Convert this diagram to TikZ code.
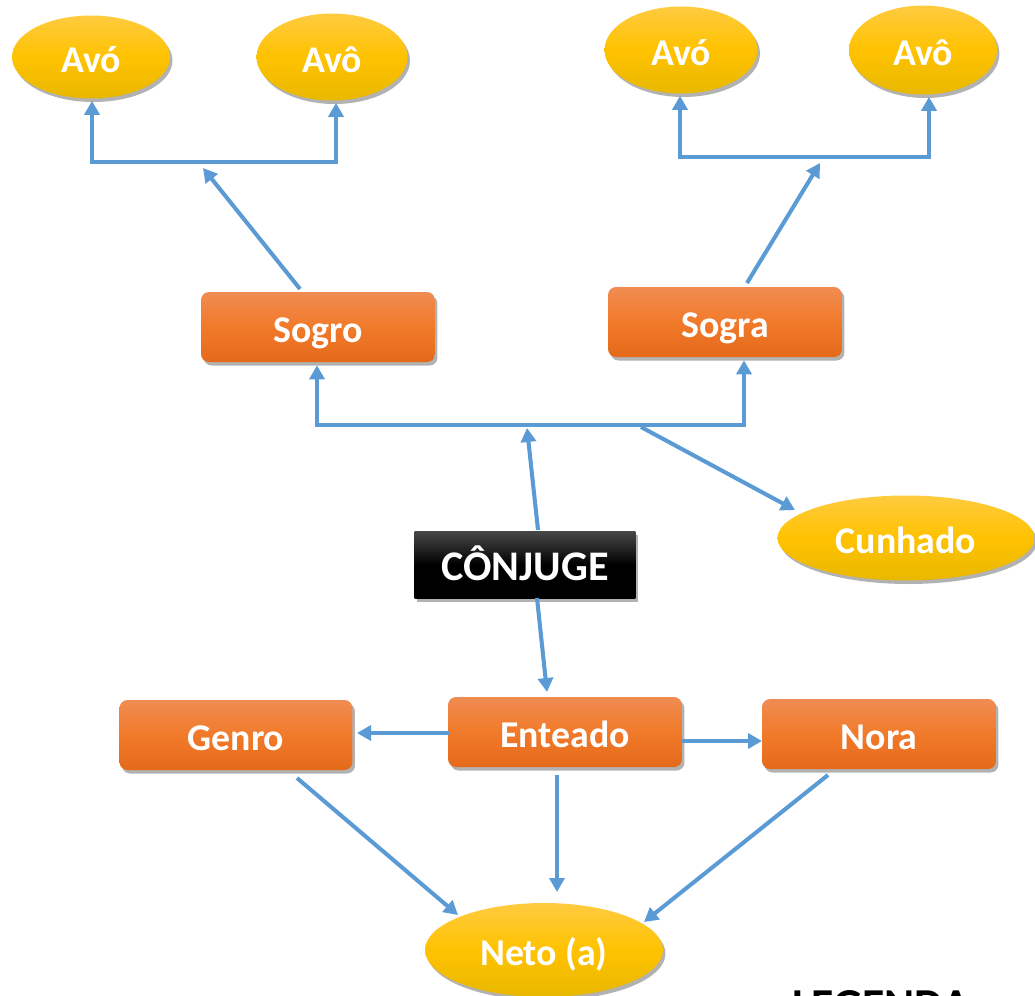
\documentclass[tikz,border=0pt]{standalone}
\usepackage{fontspec}
\setmainfont{Carlito}
\usetikzlibrary{shapes.geometric,arrows.meta,calc,shadows}
\definecolor{goldT}{RGB}{255,203,64}
\definecolor{goldM}{RGB}{255,194,0}
\definecolor{goldB}{RGB}{232,184,0}
\definecolor{orT}{RGB}{240,140,82}
\definecolor{orM}{RGB}{241,122,42}
\definecolor{orB}{RGB}{228,106,26}
\definecolor{lineblue}{RGB}{91,155,213}
\newcommand\lblfont{\fontsize{21.5}{25}\selectfont\bfseries}
\newcommand\bigfont{\fontsize{24}{28}\selectfont\bfseries}
\tikzset{
  shad/.style={drop shadow={shadow xshift=0.05cm,shadow yshift=-0.07cm,opacity=0.3,fill=black}},
  txt/.style={text height=17.5pt, text depth=0pt},
  ell/.style={ellipse, inner sep=0pt, top color=goldT, bottom color=goldB, middle color=goldM,
              text=white, font=\lblfont, txt, shad},
  obox/.style={rectangle, rounded corners=0.16cm, inner sep=0pt, minimum width=4.68cm, minimum height=1.4cm,
              top color=orT, bottom color=orB, middle color=orM, text=white, font=\lblfont, txt, shad},
  blackbox/.style={rectangle, inner sep=0pt, minimum width=4.42cm, minimum height=1.34cm,
              top color=black!72, bottom color=black, middle color=black, text=white, font=\bigfont, txt, shad},
  link/.style={draw=lineblue, line width=2.3pt},
  conn/.style={link, -{Triangle[length=0.28cm,width=0.3cm]}},
}
\begin{document}
\begin{tikzpicture}[x=0.02cm,y=-0.02cm]
\useasboundingbox (0,0) rectangle (1035,995);
\clip (0,0) rectangle (1035,995);
\fill[white] (0,0) rectangle (1035,995);

% nodes
\node[ell, minimum width=3.16cm, minimum height=1.66cm] (avo1) at (91,57) {Avó};
\node[ell, minimum width=3.02cm, minimum height=1.74cm] (avo1b) at (332,57) {Avô};
\node[ell, minimum width=3.06cm, minimum height=1.74cm] (avo2) at (681,50) {Avó};
\node[ell, minimum width=2.96cm, minimum height=1.78cm] (avo2b) at (923,50) {Avô};
\node[obox] (sogro) at (318,327) {Sogro};
\node[obox] (sogra) at (725,322) {Sogra};
\node[ell, minimum width=5.14cm, minimum height=1.7cm] (cunhado) at (906,538) {Cunhado};
\node[blackbox] (conj) at (525,565) {CÔNJUGE};
\node[obox] (ent) at (565,732) {Enteado};
\node[obox, minimum width=4.66cm] (genro) at (236,735) {Genro};
\node[obox] (nora) at (879,734) {Nora};
\node[ell, minimum width=4.76cm, minimum height=1.88cm] (neto) at (544,950) {Neto (a)};
\node[anchor=base west, inner sep=0pt, text=black, font=\fontsize{26}{30}\selectfont\bfseries] (leg) at (792,1020) {LEGENDA};

% junction points
\coordinate (t1) at (214,162);
\coordinate (t2) at (800,157);
\coordinate (t3) at (527,425);
\coordinate (c1) at (641,427);

% top-left bracket
\draw[conn] (t1) -| ($(avo1.south)+(1,2)$);
\draw[conn] (t1) -| ($(avo1b.south)+(4,2)$);
\draw[conn] ($(sogro.center)+(-18,-38)$) -- ($(t1)+(-11,6)$);

% top-right bracket
\draw[conn] (t2) -| ($(avo2.south)+(-1,2)$);
\draw[conn] (t2) -| ($(avo2b.south)+(6,2)$);
\draw[conn] ($(sogra.center)+(22,-39)$) -- ($(t2)+(20,6)$);

% middle bracket
\draw[conn] (t3) -| ($(sogro.south)+(-1,3)$);
\draw[conn] (t3) -| ($(sogra.south)+(19,3)$);
\draw[conn] ($(conj.center)+(13,-35)$) -- ($(t3)+(0,3)$);
\draw[conn] (c1) -- ($(cunhado.center)+(-111,-28)$);

% lower part
\draw[conn] ($(conj.center)+(12,33)$) -- ($(ent.center)+(-18,-40)$);
\draw[conn] ($(ent.center)+(-116,1)$) -- ($(genro.center)+(121,-2)$);
\draw[conn] ($(ent.center)+(117,9)$) -- ($(nora.center)+(-117,7)$);
\draw[conn] ($(genro.center)+(61,43)$) -- ($(neto.center)+(-86,-35)$);
\draw[conn] ($(ent.center)+(-8,43)$) -- ($(neto.center)+(13,-58)$);
\draw[conn] ($(nora.center)+(-51,41)$) -- ($(neto.center)+(100,-28)$);
\end{tikzpicture}
\end{document}
